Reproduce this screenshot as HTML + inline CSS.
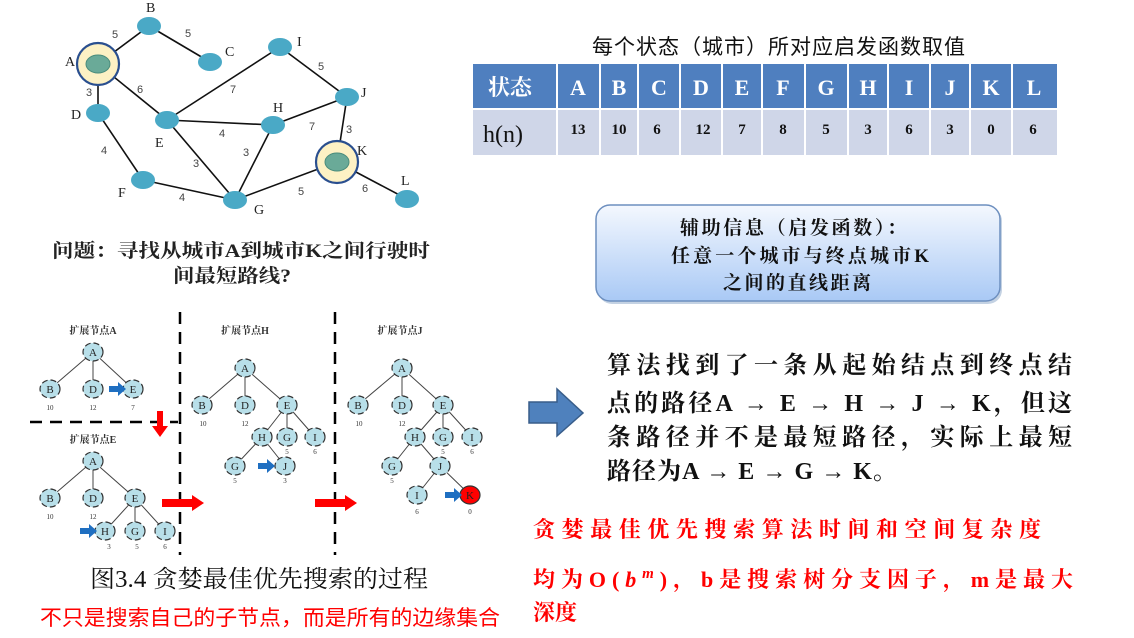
<!DOCTYPE html>
<html><head><meta charset="utf-8"><style>
html,body{margin:0;padding:0;background:#fff;}
svg{display:block;}
.s{font-family:"Liberation Serif","Noto Serif CJK SC",serif;}
.g{font-family:"Liberation Sans","Noto Sans CJK SC",sans-serif;}
</style></head><body>
<svg width="1134" height="638" viewBox="0 0 1134 638" xmlns="http://www.w3.org/2000/svg">
<defs>
<linearGradient id="cb" x1="0" y1="0" x2="0" y2="1">
<stop offset="0" stop-color="#f4f8fe"/><stop offset="1" stop-color="#a9c9f5"/></linearGradient>
<g id="ar"><path d="M0,-3 L9,-3 L9,-7 L17,0 L9,7 L9,3 L0,3 Z" fill="#1f6fc1"/></g>
<g id="rar"><path d="M0,-4 L30,-4 L30,-8 L42,0 L30,8 L30,4 L0,4 Z" fill="#f00"/></g>
</defs>

<!-- Graph -->
<g stroke="#111" stroke-width="1.6">
<line x1="98" y1="64" x2="149" y2="26"/><line x1="149" y1="26" x2="210" y2="62"/>
<line x1="98" y1="64" x2="98" y2="113"/><line x1="98" y1="64" x2="167" y2="120"/>
<line x1="98" y1="113" x2="143" y2="180"/><line x1="167" y1="120" x2="280" y2="47"/>
<line x1="280" y1="47" x2="347" y2="97"/><line x1="167" y1="120" x2="273" y2="125"/>
<line x1="273" y1="125" x2="347" y2="97"/><line x1="167" y1="120" x2="235" y2="200"/>
<line x1="273" y1="125" x2="235" y2="200"/><line x1="143" y1="180" x2="235" y2="200"/>
<line x1="347" y1="97" x2="337" y2="162"/><line x1="235" y1="200" x2="337" y2="162"/>
<line x1="337" y1="162" x2="407" y2="199"/>
</g>
<circle cx="98" cy="64" r="21" fill="#fdf1c4" stroke="#2a4f8f" stroke-width="2.2"/>
<circle cx="337" cy="162" r="21" fill="#fdf1c4" stroke="#2a4f8f" stroke-width="2.2"/>
<g fill="#4aa9c6">
<ellipse cx="149" cy="26" rx="12" ry="9"/><ellipse cx="210" cy="62" rx="12" ry="9"/>
<ellipse cx="98" cy="113" rx="12" ry="9"/><ellipse cx="167" cy="120" rx="12" ry="9"/>
<ellipse cx="280" cy="47" rx="12" ry="9"/><ellipse cx="347" cy="97" rx="12" ry="9"/>
<ellipse cx="273" cy="125" rx="12" ry="9"/><ellipse cx="143" cy="180" rx="12" ry="9"/>
<ellipse cx="235" cy="200" rx="12" ry="9"/><ellipse cx="407" cy="199" rx="12" ry="9"/>
</g>
<g fill="#6aaa98" stroke="#4a8c7c"><ellipse cx="98" cy="64" rx="12" ry="9"/><ellipse cx="337" cy="162" rx="12" ry="9"/></g>
<g class="s" font-size="14" fill="#222">
<text x="146" y="12">B</text><text x="225" y="56">C</text><text x="65" y="66">A</text>
<text x="71" y="119">D</text><text x="155" y="147">E</text><text x="297" y="46">I</text>
<text x="361" y="97">J</text><text x="273" y="112">H</text><text x="357" y="155">K</text>
<text x="118" y="197">F</text><text x="254" y="214">G</text><text x="401" y="185">L</text>
</g>
<g class="g" font-size="11" fill="#444">
<text x="112" y="38">5</text><text x="185" y="37">5</text><text x="86" y="96">3</text>
<text x="137" y="93">6</text><text x="230" y="93">7</text><text x="318" y="70">5</text>
<text x="219" y="137">4</text><text x="309" y="130">7</text><text x="346" y="133">3</text>
<text x="243" y="156">3</text><text x="193" y="167">3</text><text x="101" y="154">4</text>
<text x="179" y="201">4</text><text x="298" y="195">5</text><text x="362" y="192">6</text>
</g>
<g class="s" font-size="19" font-weight="bold" fill="#222">
<text x="52" y="257" textLength="378" lengthAdjust="spacingAndGlyphs">问题：寻找从城市A到城市K之间行驶时</text>
<text x="173" y="282" textLength="118" lengthAdjust="spacingAndGlyphs">间最短路线?</text>
</g>

<!-- Table -->
<text x="592" y="54" class="g" font-size="21" fill="#111" textLength="373">每个状态（城市）所对应启发函数取值</text>
<rect x="473" y="64" width="584" height="44" fill="#4f7fbf"/>
<rect x="473" y="110" width="584" height="45" fill="#cfd6e8"/>
<g stroke="#fff" stroke-width="2">
<line x1="473" y1="109" x2="1057" y2="109"/>
<line x1="557" y1="64" x2="557" y2="155"/><line x1="600" y1="64" x2="600" y2="155"/>
<line x1="638" y1="64" x2="638" y2="155"/><line x1="680" y1="64" x2="680" y2="155"/>
<line x1="722" y1="64" x2="722" y2="155"/><line x1="762" y1="64" x2="762" y2="155"/>
<line x1="805" y1="64" x2="805" y2="155"/><line x1="848" y1="64" x2="848" y2="155"/>
<line x1="888" y1="64" x2="888" y2="155"/><line x1="930" y1="64" x2="930" y2="155"/>
<line x1="970" y1="64" x2="970" y2="155"/><line x1="1012" y1="64" x2="1012" y2="155"/>
</g>
<g class="s" font-size="22" font-weight="bold" fill="#fff" text-anchor="middle">
<text x="510" y="95">状态</text>
<text x="578" y="95">A</text><text x="619" y="95">B</text><text x="659" y="95">C</text>
<text x="701" y="95">D</text><text x="742" y="95">E</text><text x="783" y="95">F</text>
<text x="826" y="95">G</text><text x="868" y="95">H</text><text x="909" y="95">I</text>
<text x="950" y="95">J</text><text x="991" y="95">K</text><text x="1034" y="95">L</text>
</g>
<text x="483" y="142" class="s" font-size="24" fill="#111">h(n)</text>
<g class="s" font-size="15" font-weight="bold" fill="#111" text-anchor="middle">
<text x="578" y="134">13</text><text x="619" y="134">10</text><text x="657" y="134">6</text>
<text x="703" y="134">12</text><text x="742" y="134">7</text><text x="783" y="134">8</text>
<text x="826" y="134">5</text><text x="868" y="134">3</text><text x="909" y="134">6</text>
<text x="950" y="134">3</text><text x="991" y="134">0</text><text x="1033" y="134">6</text>
</g>

<!-- Callout -->
<rect x="598" y="207" width="404" height="97" rx="14" fill="#8aa6c8" opacity="0.5"/>
<rect x="596" y="205" width="404" height="96" rx="14" fill="url(#cb)" stroke="#6d8fbf" stroke-width="1.5"/>
<g class="s" font-size="19" font-weight="bold" fill="#111">
<text x="680" y="234" textLength="226">辅助信息（启发函数）：</text>
<text x="671" y="262" textLength="258">任意一个城市与终点城市K</text>
<text x="723" y="289" textLength="148">之间的直线距离</text>
</g>

<!-- Big arrow -->
<path d="M529,402 L557,402 L557,389 L583,413 L557,436 L557,423 L529,423 Z" fill="#4f81bd" stroke="#385d8a" stroke-width="1.5"/>

<g class="s" font-size="24" font-weight="bold" fill="#111">
<text x="607" y="373" textLength="465">算法找到了一条从起始结点到终点结</text>
<text x="607" y="411" textLength="465">点的路径A → E → H → J → K，但这</text>
<text x="607" y="445" textLength="465">条路径并不是最短路径，实际上最短</text>
<text x="607" y="479" textLength="290">路径为A → E → G → K。</text>
</g>
<g class="s" font-size="22" font-weight="bold" fill="#f00">
<text x="533" y="537" textLength="508">贪婪最佳优先搜索算法时间和空间复杂度</text>
<text x="533" y="587" textLength="540">均为O(<tspan font-style="italic">b</tspan><tspan font-style="italic" font-size="15" dy="-9">m</tspan><tspan dy="9">)，b是搜索树分支因子，m是最大</tspan></text>
<text x="533" y="620">深度</text>
</g>

<!-- Trees -->
<g stroke="#000" stroke-width="2.5" stroke-dasharray="12,8">
<line x1="180" y1="312" x2="180" y2="555"/><line x1="335" y1="312" x2="335" y2="555"/>
<line x1="30" y1="422" x2="178" y2="422"/>
</g>
<g stroke="#444" stroke-width="1">
<line x1="93" y1="352" x2="50" y2="389"/><line x1="93" y1="352" x2="93" y2="389"/><line x1="93" y1="352" x2="133" y2="389"/>
<line x1="93" y1="461" x2="50" y2="498"/><line x1="93" y1="461" x2="93" y2="498"/><line x1="93" y1="461" x2="135" y2="498"/>
<line x1="135" y1="498" x2="105" y2="531"/><line x1="135" y1="498" x2="135" y2="531"/><line x1="135" y1="498" x2="165" y2="531"/>
<line x1="245" y1="368" x2="202" y2="405"/><line x1="245" y1="368" x2="245" y2="405"/><line x1="245" y1="368" x2="287" y2="405"/>
<line x1="287" y1="405" x2="262" y2="437"/><line x1="287" y1="405" x2="287" y2="437"/><line x1="287" y1="405" x2="315" y2="437"/>
<line x1="262" y1="437" x2="235" y2="466"/><line x1="262" y1="437" x2="285" y2="466"/>
<line x1="402" y1="368" x2="358" y2="405"/><line x1="402" y1="368" x2="402" y2="405"/><line x1="402" y1="368" x2="443" y2="405"/>
<line x1="443" y1="405" x2="415" y2="437"/><line x1="443" y1="405" x2="443" y2="437"/><line x1="443" y1="405" x2="472" y2="437"/>
<line x1="415" y1="437" x2="392" y2="466"/><line x1="415" y1="437" x2="440" y2="466"/>
<line x1="440" y1="466" x2="417" y2="495"/><line x1="440" y1="466" x2="470" y2="495"/>
</g>
<g fill="#b8dfe9" stroke="#333" stroke-width="1.2" stroke-dasharray="6,3">
<ellipse cx="93" cy="352" rx="10" ry="9"/><ellipse cx="50" cy="389" rx="10" ry="9"/><ellipse cx="93" cy="389" rx="10" ry="9"/><ellipse cx="133" cy="389" rx="10" ry="9"/>
<ellipse cx="93" cy="461" rx="10" ry="9"/><ellipse cx="50" cy="498" rx="10" ry="9"/><ellipse cx="93" cy="498" rx="10" ry="9"/><ellipse cx="135" cy="498" rx="10" ry="9"/>
<ellipse cx="105" cy="531" rx="10" ry="9"/><ellipse cx="135" cy="531" rx="10" ry="9"/><ellipse cx="165" cy="531" rx="10" ry="9"/>
<ellipse cx="245" cy="368" rx="10" ry="9"/><ellipse cx="202" cy="405" rx="10" ry="9"/><ellipse cx="245" cy="405" rx="10" ry="9"/><ellipse cx="287" cy="405" rx="10" ry="9"/>
<ellipse cx="262" cy="437" rx="10" ry="9"/><ellipse cx="287" cy="437" rx="10" ry="9"/><ellipse cx="315" cy="437" rx="10" ry="9"/>
<ellipse cx="235" cy="466" rx="10" ry="9"/><ellipse cx="285" cy="466" rx="10" ry="9"/>
<ellipse cx="402" cy="368" rx="10" ry="9"/><ellipse cx="358" cy="405" rx="10" ry="9"/><ellipse cx="402" cy="405" rx="10" ry="9"/><ellipse cx="443" cy="405" rx="10" ry="9"/>
<ellipse cx="415" cy="437" rx="10" ry="9"/><ellipse cx="443" cy="437" rx="10" ry="9"/><ellipse cx="472" cy="437" rx="10" ry="9"/>
<ellipse cx="392" cy="466" rx="10" ry="9"/><ellipse cx="440" cy="466" rx="10" ry="9"/><ellipse cx="417" cy="495" rx="10" ry="9"/>
</g>
<ellipse cx="470" cy="495" rx="10" ry="9" fill="#f00" stroke="#333" stroke-width="1.2"/>
<g class="s" font-size="11" fill="#222" text-anchor="middle">
<text x="93" y="356">A</text><text x="50" y="393">B</text><text x="93" y="393">D</text><text x="133" y="393">E</text>
<text x="93" y="465">A</text><text x="50" y="502">B</text><text x="93" y="502">D</text><text x="135" y="502">E</text>
<text x="105" y="535">H</text><text x="135" y="535">G</text><text x="165" y="535">I</text>
<text x="245" y="372">A</text><text x="202" y="409">B</text><text x="245" y="409">D</text><text x="287" y="409">E</text>
<text x="262" y="441">H</text><text x="287" y="441">G</text><text x="315" y="441">I</text>
<text x="235" y="470">G</text><text x="285" y="470">J</text>
<text x="402" y="372">A</text><text x="358" y="409">B</text><text x="402" y="409">D</text><text x="443" y="409">E</text>
<text x="415" y="441">H</text><text x="443" y="441">G</text><text x="472" y="441">I</text>
<text x="392" y="470">G</text><text x="440" y="470">J</text><text x="417" y="499">I</text><text x="470" y="499">K</text>
</g>
<g class="s" font-size="7" fill="#333" text-anchor="middle">
<text x="50" y="410">10</text><text x="93" y="410">12</text><text x="133" y="410">7</text>
<text x="50" y="519">10</text><text x="93" y="519">12</text>
<text x="109" y="549">3</text><text x="137" y="549">5</text><text x="165" y="549">6</text>
<text x="203" y="426">10</text><text x="245" y="426">12</text><text x="287" y="454">5</text><text x="315" y="454">6</text>
<text x="235" y="483">5</text><text x="285" y="483">3</text>
<text x="359" y="426">10</text><text x="402" y="426">12</text><text x="443" y="454">5</text><text x="472" y="454">6</text>
<text x="392" y="483">5</text><text x="417" y="514">6</text><text x="470" y="514">0</text>
</g>
<g class="s" font-size="10" font-weight="bold" fill="#333" text-anchor="middle">
<text x="93" y="334">扩展节点A</text><text x="93" y="443">扩展节点E</text>
<text x="245" y="334">扩展节点H</text><text x="400" y="334">扩展节点J</text>
</g>
<use href="#ar" x="109" y="389"/><use href="#ar" x="80" y="531"/><use href="#ar" x="258" y="466"/><use href="#ar" x="445" y="495"/>
<path d="M157,411 L163,411 L163,426 L168,426 L160,437 L152,426 L157,426 Z" fill="#f00"/>
<use href="#rar" x="162" y="503"/><use href="#rar" x="315" y="503"/>

<text x="90" y="587" class="s" font-size="24" fill="#111" textLength="338" lengthAdjust="spacingAndGlyphs">图3.4 贪婪最佳优先搜索的过程</text>
<text x="40" y="625" class="g" font-size="21" fill="#f00" textLength="460" lengthAdjust="spacingAndGlyphs">不只是搜索自己的子节点，而是所有的边缘集合</text>
</svg>
</body></html>
